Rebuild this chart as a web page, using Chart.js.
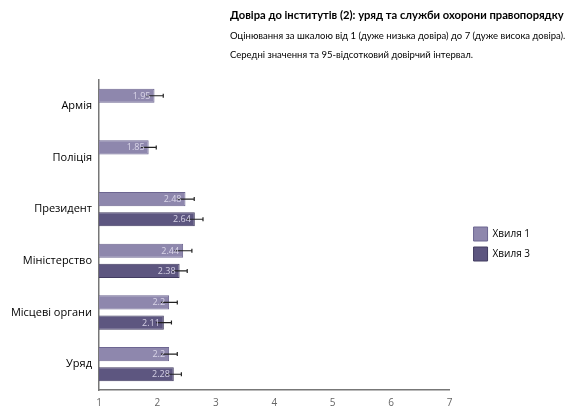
<!DOCTYPE html>
<html>
<head>
<meta charset="utf-8">
<script src="https://cdn.jsdelivr.net/npm/chart.js@4.4.1/dist/chart.umd.min.js"></script>
<style>
  html, body { margin: 0; padding: 0; background: #fff; }
  #wrap { position: relative; width: 571px; height: 408px; }
  #head { position: absolute; left: 230px; top: 7px; font-family: Lato, sans-serif; color: #000; white-space: nowrap; z-index: 2; }
  #head .t { font-size: 11.2px; font-weight: bold; line-height: 16px; margin-bottom: 3px; }
  #head .s { font-size: 9.5px; line-height: 19px; }
  canvas { position: absolute; left: 0; top: 0; }
</style>
</head>
<body>
<div id="wrap">
  <div id="head">
    <div class="t">Довіра до інститутів (2): уряд та служби охорони правопорядку</div>
    <div class="s">Оцінювання за шкалою від 1 (дуже низька довіра) до 7 (дуже висока довіра).</div>
    <div class="s">Середні значення та 95-відсотковий довірчий інтервал.</div>
  </div>
  <canvas id="trustChart" width="571" height="408"></canvas>
</div>
<script>
  // Institutions and mean trust scores per wave
  const institutions = ["Армія", "Поліція", "Президент", "Міністерство", "Місцеві органи", "Уряд"];
  const wave1Values = [1.95, 1.85, 2.48, 2.44, 2.2, 2.2];
  const wave3Values = [null, null, 2.64, 2.38, 2.11, 2.28];
  const wave1Labels = ["1.95", "1.85", "2.48", "2.44", "2.2", "2.2"];
  const wave3Labels = [null, null, "2.64", "2.38", "2.11", "2.28"];
  // half-width of the 95% confidence interval
  const wave1Ci = [0.15, 0.13, 0.15, 0.15, 0.14, 0.14];
  const wave3Ci = [null, null, 0.14, 0.13, 0.13, 0.13];
  const xTicks = [1, 2, 3, 4, 5, 6, 7];

  const FONT = "'Open Sans', sans-serif";

  // whiskers + value text on each bar
  const barExtras = {
    id: "barExtras",
    afterDatasetsDraw(chart) {
      const ctx = chart.ctx;
      const x = chart.scales.x;
      chart.data.datasets.forEach((ds, i) => {
        const meta = chart.getDatasetMeta(i);
        meta.data.forEach((bar, j) => {
          const v = ds.data[j];
          if (v == null) return;
          const ci = ds.ci[j];
          const lo = x.getPixelForValue(v - ci);
          const hi = x.getPixelForValue(v + ci);
          const y = bar.y;
          ctx.save();
          ctx.strokeStyle = "#222";
          ctx.lineWidth = 1.2;
          ctx.beginPath();
          ctx.moveTo(lo, y); ctx.lineTo(hi, y);
          ctx.moveTo(hi, y - 2); ctx.lineTo(hi, y + 2);
          ctx.stroke();
          ctx.fillStyle = "rgba(230,227,242,0.85)";
          ctx.font = "9px " + FONT;
          ctx.textAlign = "right";
          ctx.textBaseline = "middle";
          ctx.fillText(ds.valueLabels[j], bar.x - 4, y + 0.5);
          ctx.restore();
        });
      });
    }
  };

  // push the legend a bit away from the plot area
  const legendShift = {
    id: "legendShift",
    afterLayout(chart) {
      chart.legend.left += 18;
      chart.legend.right += 18;
    }
  };

  new Chart(document.getElementById("trustChart"), {
    type: "bar",
    data: {
      labels: institutions,
      datasets: [
        {
          label: "Хвиля 1",
          data: wave1Values,
          ci: wave1Ci,
          valueLabels: wave1Labels,
          backgroundColor: "#8e87ad",
          borderColor: "#6d6691",
          borderWidth: 1,
          borderSkipped: false,
        },
        {
          label: "Хвиля 3",
          data: wave3Values,
          ci: wave3Ci,
          valueLabels: wave3Labels,
          backgroundColor: "#5d5680",
          borderColor: "#423c61",
          borderWidth: 1,
          borderSkipped: false,
        },
      ],
    },
    options: {
      indexAxis: "y",
      responsive: false,
      animation: false,
      categoryPercentage: 0.78,
      barPercentage: 0.7,
      layout: { padding: { top: 80, right: 49, bottom: 0, left: 0 } },
      scales: {
        x: {
          min: 1,
          max: 7,
          afterBuildTicks: (s) => { s.ticks = xTicks.map((v) => ({ value: v })); },
          grid: { display: false, drawTicks: true, tickLength: 3, tickColor: "#777" },
          border: { color: "#777", width: 1.5 },
          ticks: { color: "#666", font: { family: FONT, size: 10 }, padding: 4 },
          afterFit: (s) => { s.height = 18; },
        },
        y: {
          grid: { display: false, drawTicks: true, tickLength: 3, tickColor: "#777" },
          border: { color: "#777", width: 1.5 },
          ticks: { color: "#000", font: { family: FONT, size: 11 }, padding: 4 },
          afterFit: (s) => { s.width = 99; },
        },
      },
      plugins: {
        legend: {
          position: "right",
          labels: {
            boxWidth: 14,
            boxHeight: 14,
            padding: 6,
            color: "#000",
            font: { family: FONT, size: 10 },
          },
        },
        tooltip: { enabled: false },
      },
    },
    plugins: [barExtras, legendShift],
  });
</script>
</body>
</html>
